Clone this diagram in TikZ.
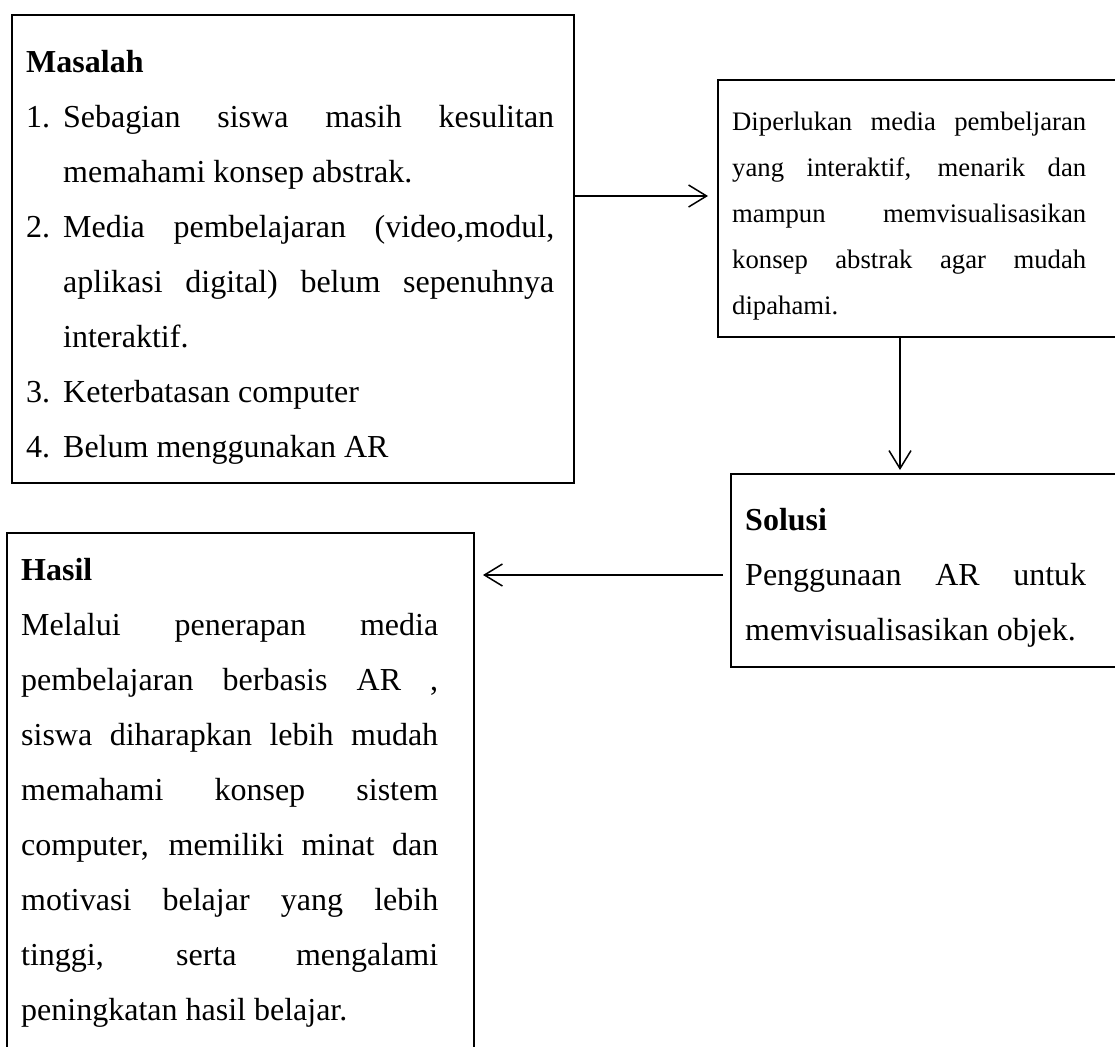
\documentclass[tikz,border=0pt]{standalone}
\usepackage{fontspec}
\setmainfont{Liberation Serif}
\usetikzlibrary{arrows.meta,positioning}
\newcommand{\wordgap}{\spaceskip=0pt\xspaceskip=0pt}
\newcommand{\fullline}[1]{\makebox[\hsize][s]{\wordgap\strut #1}}
\newcommand{\itemline}[2]{\makebox[37pt][l]{\strut #1}\makebox[\dimexpr\hsize-37pt\relax][s]{\wordgap #2}}
\newcommand{\itemfull}[1]{\hspace*{37pt}\makebox[\dimexpr\hsize-37pt\relax][s]{\wordgap\strut #1}}
\newcommand{\itemlast}[2]{\makebox[37pt][l]{\strut #1}\wordgap #2}
\newcommand{\itemrest}[1]{\hspace*{37pt}\wordgap\strut #1}
\tikzset{
  frame/.style={draw,line width=2pt,inner sep=0pt,anchor=north west},
  bigtext/.style={inner sep=0pt,anchor=north west,align=justify,
    font=\fontsize{32}{55}\selectfont,
    execute at begin node={\setlength{\parindent}{0pt}\setlength{\parskip}{0pt}\wordgap}},
  smalltext/.style={bigtext,font=\fontsize{26.7}{46}\selectfont},
  flow/.style={line width=1.5pt,-{Straight Barb[length=18pt,width=22pt]}}
}

\begin{document}
\begin{tikzpicture}[x=1pt,y=-1pt]
  \useasboundingbox (0,0) rectangle (1115,1046);
  \clip (0,0) rectangle (1115,1046);
  % kotak
  \node[frame,minimum width=562pt,minimum height=468pt] (masalah) at (11,14) {};
  \node[frame,minimum width=420pt,minimum height=257pt] (perlu) at (717,79) {};
  \node[frame,minimum width=420pt,minimum height=193pt] (solusi) at (730,473) {};
  \node[frame,minimum width=467pt,minimum height=540pt] (hasil) at (6,532) {};
  % teks
  \node[bigtext,text width=528pt] (masalahtxt) at (26,33.5) {%
    \strut\textbf{Masalah}\\
    \itemline{1.}{Sebagian siswa masih kesulitan}\\
    \itemrest{memahami konsep abstrak.}\\
    \itemline{2.}{Media pembelajaran (video,modul,}\\
    \itemfull{aplikasi digital) belum sepenuhnya}\\
    \itemrest{interaktif.}\\
    \itemlast{3.}{Keterbatasan computer}\\
    \itemlast{4.}{Belum menggunakan AR}};
  \node[smalltext,text width=354pt] (perlutxt) at (732,97.8) {%
    \fullline{Diperlukan media pembeljaran}\\
    \fullline{yang interaktif, menarik dan}\\
    \fullline{mampun memvisualisasikan}\\
    \fullline{konsep abstrak agar mudah}\\
    \strut dipahami.};
  \node[bigtext,text width=341pt] (solusitxt) at (745,491.5) {%
    \strut\textbf{Solusi}\\
    \fullline{Penggunaan AR untuk}\\
    \strut memvisualisasikan objek.};
  \node[bigtext,text width=417pt] (hasiltxt) at (21,541.5) {%
    \strut\textbf{Hasil}\\
    \fullline{Melalui penerapan media}\\
    \fullline{pembelajaran berbasis AR ,}\\
    \fullline{siswa diharapkan lebih mudah}\\
    \fullline{memahami konsep sistem}\\
    \fullline{computer, memiliki minat dan}\\
    \fullline{motivasi belajar yang lebih}\\
    \fullline{tinggi, serta mengalami}\\
    \strut peningkatan hasil belajar.};
  % panah
  \coordinate (r1) at (0,196);
  \coordinate (r2) at (900,0);
  \coordinate (r3) at (0,575);
  \draw[flow,shorten >=9pt] (masalah.east |- r1) -- (perlu.west |- r1);
  \draw[flow,shorten >=3pt] (perlu.south -| r2) -- (solusi.north -| r2);
  \draw[flow,shorten <=7pt,shorten >=8pt] (solusi.west |- r3) -- (hasil.east |- r3);
\end{tikzpicture}
\end{document}
